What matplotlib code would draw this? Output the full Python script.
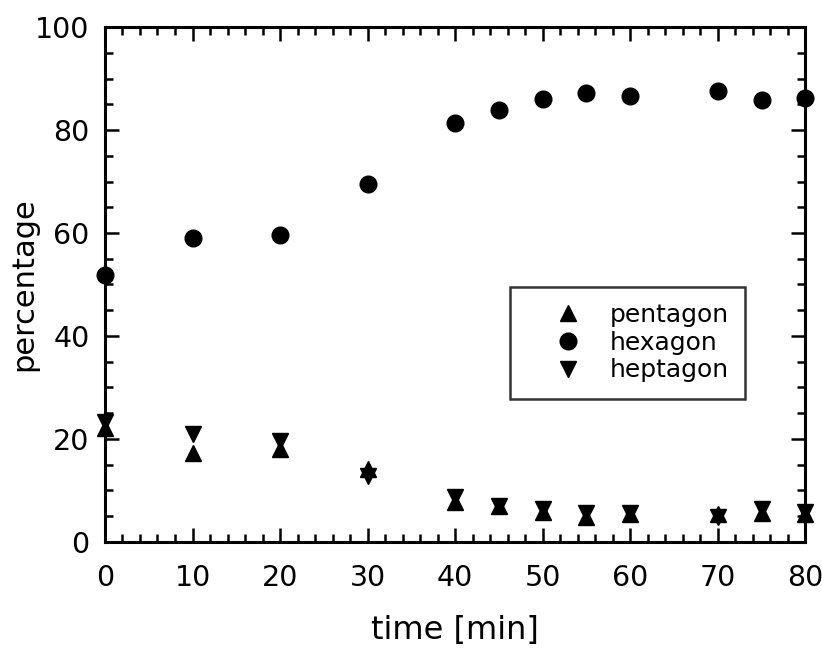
import matplotlib
matplotlib.use("Agg")
import matplotlib.pyplot as plt
from matplotlib.ticker import MultipleLocator

plt.rcParams['font.family'] = ['DejaVu Sans']

time_pent = [0, 10, 20, 30, 40, 45, 50, 55, 60, 70, 75, 80]
pentagon = [22.2, 17.2, 18.0, 14.2, 7.8, 6.9, 5.7, 4.9, 5.4, 5.3, 5.6, 5.3]
time_hex = [0, 10, 20, 30, 40, 45, 50, 55, 60, 70, 75, 80]
hexagon = [51.8, 59.0, 59.6, 69.5, 81.4, 84.0, 86.0, 87.3, 86.6, 87.6, 85.8, 86.3]
time_hept = [0, 10, 20, 30, 40, 45, 50, 55, 60, 70, 75, 80]
heptagon = [23.2, 21.0, 19.5, 12.8, 8.6, 6.9, 6.4, 5.6, 5.5, 4.9, 6.3, 5.8]

xticks = [0, 10, 20, 30, 40, 50, 60, 70, 80]
yticks = [0, 20, 40, 60, 80, 100]

fig = plt.figure(figsize=(8.22, 6.48), dpi=100)
ax = fig.add_axes([0.1277, 0.164, 0.852, 0.794])

ms = 12
ax.plot(time_pent, pentagon, linestyle='none', marker='^', color='black',
        markersize=ms, clip_on=False, label='pentagon', zorder=3)
ax.plot(time_hex, hexagon, linestyle='none', marker='o', color='black',
        markersize=ms, clip_on=False, label='hexagon', zorder=3)
ax.plot(time_hept, heptagon, linestyle='none', marker='v', color='black',
        markersize=ms, clip_on=False, label='heptagon', zorder=3)

ax.set_xlim(0, 80)
ax.set_ylim(0, 100)
ax.set_xticks(xticks)
ax.set_yticks(yticks)
ax.xaxis.set_minor_locator(MultipleLocator(2))
ax.yaxis.set_minor_locator(MultipleLocator(5))
ax.tick_params(which='both', direction='in', top=True, right=True, width=1.8,
               labelsize=20.5)
ax.tick_params(axis='x', which='major', pad=16)
ax.tick_params(axis='y', which='major', pad=11)
ax.tick_params(which='major', length=10)
ax.tick_params(which='minor', length=5.5)
for s in ax.spines.values():
    s.set_linewidth(2.2)

ax.set_xlabel('time [min]', fontsize=23)
ax.set_ylabel('percentage', fontsize=22)
ax.xaxis.set_label_coords(0.5, -0.143)
ax.yaxis.set_label_coords(-0.095, 0.5)

leg = ax.legend(loc='center', bbox_to_anchor=(0.7464, 0.3872), fontsize=18,
                frameon=True, fancybox=False, edgecolor='black',
                handletextpad=0.05, borderpad=0.65, labelspacing=0.15,
                handlelength=3.3, borderaxespad=0)
leg.get_frame().set_linewidth(1.8)

fig.savefig('out.png', dpi=100)
